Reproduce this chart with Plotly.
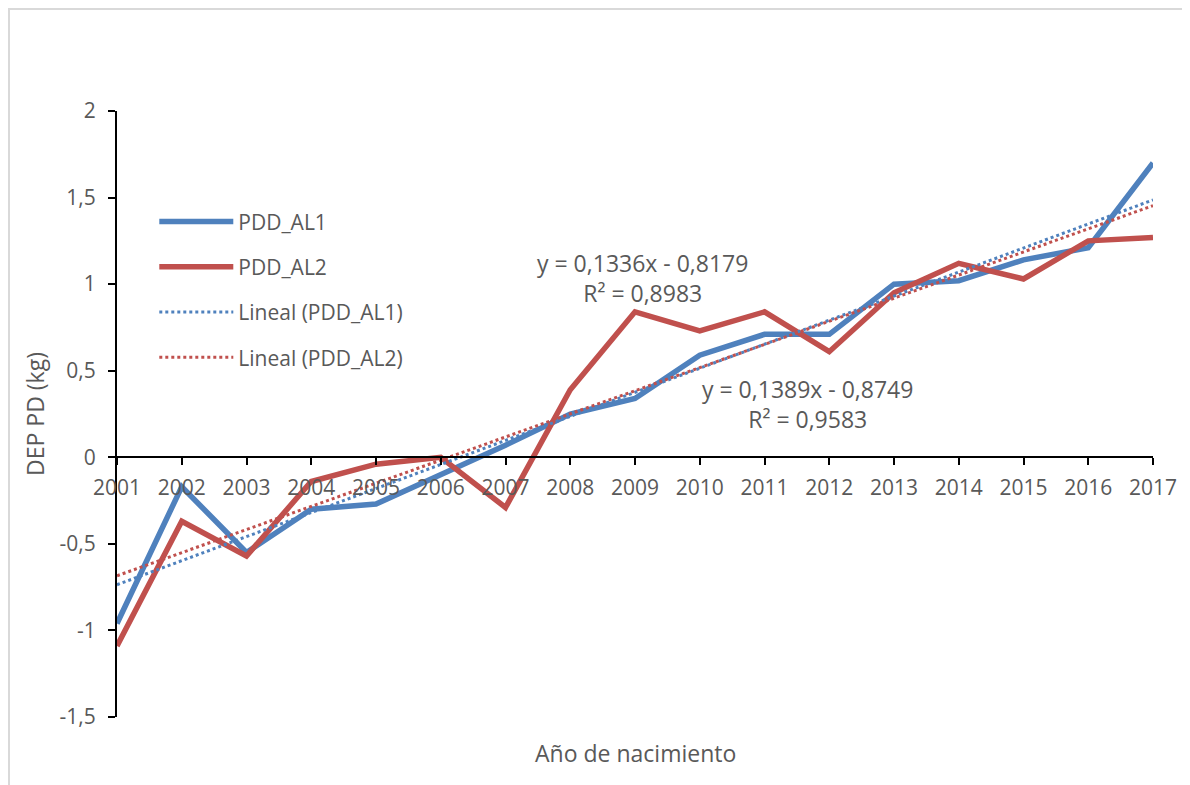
import plotly.graph_objects as go

years = list(range(2001, 2018))
pdd_al1 = [-0.96, -0.17, -0.55, -0.30, -0.27, -0.10, 0.07, 0.25, 0.34, 0.59, 0.71, 0.71, 1.00, 1.02, 1.14, 1.21, 1.70]
pdd_al2 = [-1.09, -0.37, -0.57, -0.14, -0.04, 0.00, -0.29, 0.39, 0.84, 0.73, 0.84, 0.61, 0.95, 1.12, 1.03, 1.25, 1.27]

# Trend line coefficients as shown in the chart (x = 1..17)
slope_al1, intercept_al1 = 0.1389, -0.8749
slope_al2, intercept_al2 = 0.1336, -0.8179
eq_al1 = ["y = 0,1389x - 0,8749", "R² = 0,9583"]
eq_al2 = ["y = 0,1336x - 0,8179", "R² = 0,8983"]

y_ticks = [-1.5, -1, -0.5, 0, 0.5, 1, 1.5, 2]
y_ticktext = ["-1,5", "-1", "-0,5", "0", "0,5", "1", "1,5", "2"]

BLUE = "#4F81BD"
RED = "#C0504D"
GREY = "#595959"
FONT = "Open Sans"

idx = list(range(1, len(years) + 1))
trend_al1 = [slope_al1 * i + intercept_al1 for i in idx]
trend_al2 = [slope_al2 * i + intercept_al2 for i in idx]

fig = go.Figure()
fig.add_trace(go.Scatter(x=years, y=pdd_al1, mode="lines", name="PDD_AL1",
                         line=dict(color=BLUE, width=5.5), legendgroup="a"))
fig.add_trace(go.Scatter(x=years, y=pdd_al2, mode="lines", name="PDD_AL2",
                         line=dict(color=RED, width=5.5), legendgroup="b"))
fig.add_trace(go.Scatter(x=years, y=trend_al1, mode="lines", name="Lineal (PDD_AL1)",
                         line=dict(color=BLUE, width=3, dash="dot"), legendgroup="c"))
fig.add_trace(go.Scatter(x=years, y=trend_al2, mode="lines", name="Lineal (PDD_AL2)",
                         line=dict(color=RED, width=3, dash="dot"), legendgroup="d"))

fig.update_layout(
    width=1190, height=785,
    margin=dict(l=109, r=45, t=103, b=76),
    paper_bgcolor="white", plot_bgcolor="white",
    font=dict(family=FONT, size=21, color=GREY),
    showlegend=True,
    legend=dict(x=0.036, y=0.851, xanchor="left", yanchor="top",
                bgcolor="rgba(0,0,0,0)", tracegroupgap=15,
                itemwidth=74, font=dict(family=FONT, size=21, color=GREY)),
    xaxis=dict(range=[2001, 2017], tickmode="array", tickvals=years,
               ticktext=[str(y) for y in years],
               showline=True, linecolor="black", linewidth=2,
               ticks="outside", ticklen=7, tickwidth=2, tickcolor="black",
               ticklabelstandoff=5,
               tickfont=dict(family=FONT, size=21, color=GREY),
               showgrid=False, zeroline=False,
               anchor="free", position=1.5 / 3.5),
    yaxis=dict(range=[-1.5, 2], tickmode="array", tickvals=y_ticks, ticktext=y_ticktext,
               showline=True, linecolor="black", linewidth=2,
               ticks="outside", ticklen=7, tickwidth=2, tickcolor="black",
               ticklabelstandoff=8,
               tickfont=dict(family=FONT, size=21, color=GREY),
               showgrid=False, zeroline=False,
               title=dict(text="DEP PD (kg)", standoff=9,
                          font=dict(family=FONT, size=23, color=GREY))),
    shapes=[dict(type="rect", xref="paper", yref="paper",
                 x0=(1 - 109) / 1036, x1=1.2, y0=-0.3, y1=1 + (103 - 1) / 606,
                 line=dict(color="#D9D9D9", width=2), fillcolor="rgba(0,0,0,0)",
                 layer="below")],
    annotations=[
        dict(text="<br>".join(eq_al2), x=2009.11, y=1.035, xref="x", yref="y",
             showarrow=False, align="center",
             font=dict(family=FONT, size=23, color=GREY)),
        dict(text="<br>".join(eq_al1), x=2011.67, y=0.305, xref="x", yref="y",
             showarrow=False, align="center",
             font=dict(family=FONT, size=23, color=GREY)),
        dict(text="Año de nacimiento", x=0.5, y=(717 - 753) / 606, xref="paper", yref="paper",
             showarrow=False, xanchor="center", yanchor="middle",
             font=dict(family=FONT, size=23, color=GREY)),
    ],
)

fig.write_html("out.html")
